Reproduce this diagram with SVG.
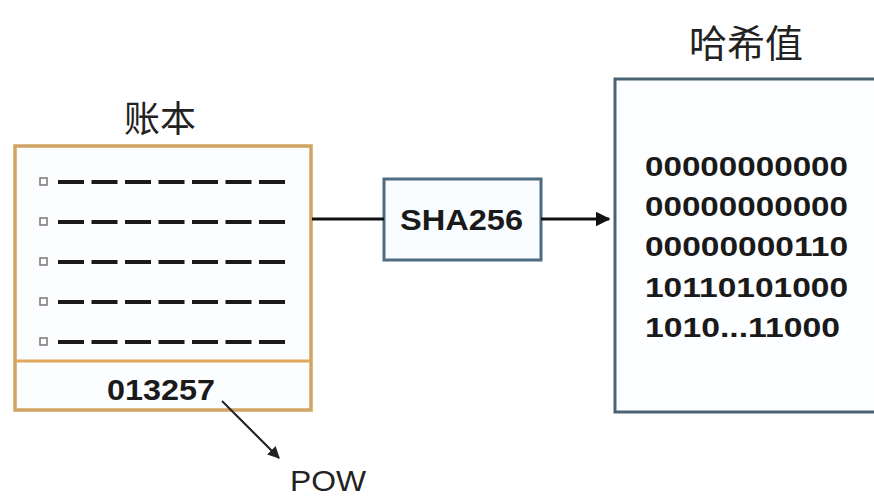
<svg xmlns="http://www.w3.org/2000/svg" width="874" height="496" viewBox="0 0 874 496">
<defs>
<style>
.cjk{font-family:"Noto Sans CJK SC","Liberation Sans",sans-serif;fill:#222}
.b{font-family:"Liberation Sans",Arial,sans-serif;font-weight:bold;fill:#1a1a1a}
.dash{stroke:#1a1a1a;stroke-width:4;stroke-dasharray:26 7.5;fill:none}
.bul{fill:#fff;stroke:#777;stroke-width:1.5}
.conn{stroke:#111;stroke-width:3;fill:none}
</style>
<marker id="ah" viewBox="0 0 10 10" refX="9" refY="5" markerWidth="5" markerHeight="5" orient="auto" markerUnits="strokeWidth">
<path d="M0,0 L10,5 L0,10 z" fill="#111"/>
</marker>
<marker id="ah2" viewBox="0 0 10 10" refX="9" refY="5" markerWidth="6" markerHeight="6" orient="auto" markerUnits="strokeWidth">
<path d="M0,0 L10,5 L0,10 z" fill="#222"/>
</marker>
</defs>
<rect width="874" height="496" fill="#fff"/>

<g id="ledger">
<text class="cjk" x="160" y="132" font-size="36" text-anchor="middle">账本</text>
<rect x="15" y="146" width="296" height="264" fill="#fcfdff" stroke="#d0a462" stroke-width="3.5"/>
<line x1="15" y1="361" x2="311" y2="361" stroke="#e0a85a" stroke-width="3"/>
<g>
<rect class="bul" x="40" y="178" width="7" height="7"/>
<line class="dash" x1="58" y1="182" x2="285" y2="182"/>
<rect class="bul" x="40" y="218" width="7" height="7"/>
<line class="dash" x1="58" y1="222" x2="285" y2="222"/>
<rect class="bul" x="40" y="258" width="7" height="7"/>
<line class="dash" x1="58" y1="262" x2="285" y2="262"/>
<rect class="bul" x="40" y="298" width="7" height="7"/>
<line class="dash" x1="58" y1="302" x2="285" y2="302"/>
<rect class="bul" x="40" y="338" width="7" height="7"/>
<line class="dash" x1="58" y1="342" x2="285" y2="342"/>
</g>
<text class="b" x="107" y="400" font-size="30" textLength="108" lengthAdjust="spacingAndGlyphs">013257</text>
</g>

<g id="sha256">
<rect x="384" y="179" width="157" height="81" fill="#fafdff" stroke="#4d6c82" stroke-width="3"/>
<text class="b" x="400" y="230" font-size="30" textLength="123" lengthAdjust="spacingAndGlyphs">SHA256</text>
</g>

<g id="hash">
<text class="cjk" x="746" y="57" font-size="38" text-anchor="middle">哈希值</text>
<rect x="615" y="79" width="275" height="333" fill="#fdfeff" stroke="#4a6272" stroke-width="3"/>
<g class="b" font-size="28">
<text x="645" y="176" textLength="203" lengthAdjust="spacingAndGlyphs">00000000000</text>
<text x="645" y="216" textLength="203" lengthAdjust="spacingAndGlyphs">00000000000</text>
<text x="645" y="256" textLength="203" lengthAdjust="spacingAndGlyphs">00000000110</text>
<text x="645" y="297" textLength="203" lengthAdjust="spacingAndGlyphs">10110101000</text>
<text x="645" y="337" textLength="195" lengthAdjust="spacingAndGlyphs">1010...11000</text>
</g>
</g>

<g id="pow">
<text x="290" y="491" font-family="'Liberation Sans',sans-serif" font-size="30" fill="#222" textLength="76" lengthAdjust="spacingAndGlyphs">POW</text>
</g>

<g id="connectors">
<line class="conn" x1="312" y1="219" x2="384" y2="219"/>
<line class="conn" x1="541" y1="219" x2="609" y2="219" marker-end="url(#ah)"/>
<line x1="222" y1="401" x2="279" y2="458" stroke="#222" stroke-width="2" marker-end="url(#ah2)"/>
</g>
</svg>
